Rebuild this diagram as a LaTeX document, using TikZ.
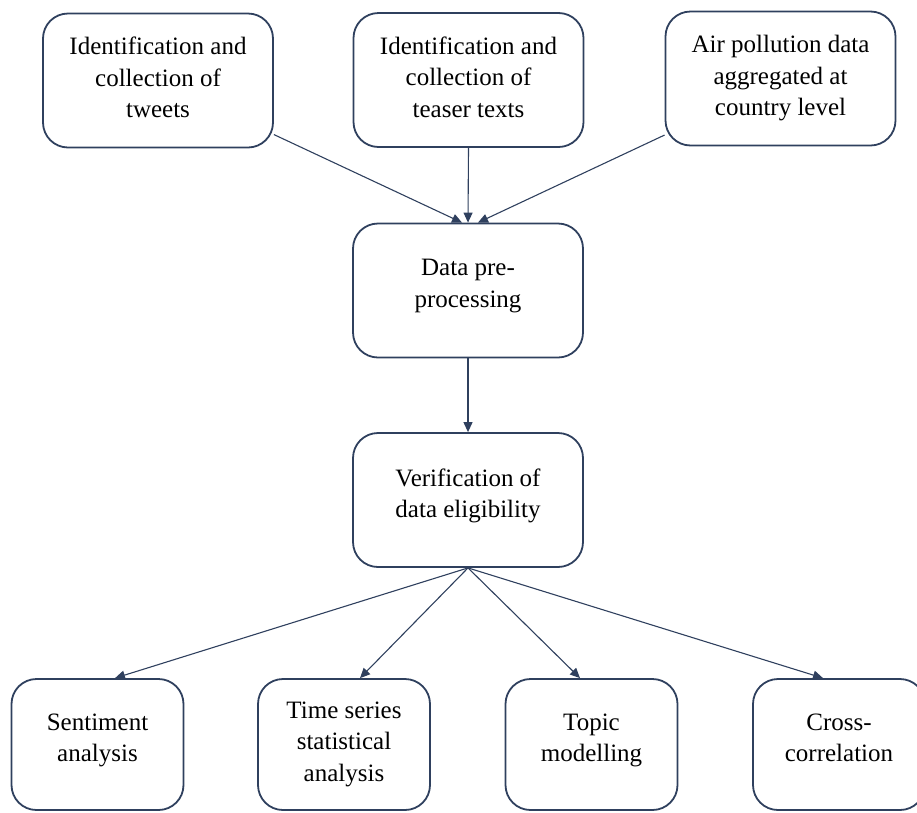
\documentclass[tikz,border=0pt]{standalone}
\usepackage{fontspec}
\setmainfont{Liberation Serif}
\usetikzlibrary{arrows.meta,positioning}
\definecolor{boxblue}{RGB}{47,64,94}
\tikzset{
  stage/.style={draw=boxblue, line width=1.8pt, rounded corners=25pt,
    align=center, inner sep=0pt, text depth=14pt,
    font=\fontsize{25}{31.5}\selectfont,
    minimum width=230pt, minimum height=134pt},
  method/.style={stage, minimum width=172pt, minimum height=131pt},
  threeline/.style={text depth=6pt},
  flow/.style={draw=boxblue, line width=1.1pt,
    -{Triangle[length=10pt,width=9pt]}}
}
\begin{document}
\begin{tikzpicture}[x=1pt, y=1pt]
  \useasboundingbox (0, 0) rectangle (917, -812);

  % data sources
  \node[stage, threeline] (tweets) at (158, -80.5) {Identification and\\collection of\\tweets};
  \node[stage, threeline] (teaser) at (468.5, -80) {Identification and\\collection of\\teaser texts};
  \node[stage, threeline] (air) at (780.5, -78.5) {Air pollution data\\aggregated at\\country level};

  % processing
  \node[stage] (prep) at (468, -290.5) {Data pre-\\processing};
  \node[stage] (verif) at (468, -500) {Verification of\\data eligibility};

  % analyses
  \node[method] (sent) at (97.5, -744.5) {Sentiment\\analysis};
  \node[method, threeline] (tsa) at (344, -744.5) {Time series\\statistical\\analysis};
  \node[method] (topic) at (591.5, -744.5) {Topic\\modelling};
  \node[method] (xcorr) at (839, -744.5) {Cross-\\correlation};

  \draw[flow] (tweets.-25) -- ([xshift=-6pt]prep.north);
  \draw[flow] (teaser.south) -- (prep.north);
  \draw[flow] (air.206) -- ([xshift=10pt]prep.north);
  \draw[flow] (prep.south) -- (verif.north);

  % one arrow to each analysis
  \foreach \dest/\dx in {sent/17.5, tsa/16, topic/-11.5, xcorr/-16} {
    \draw[flow] (verif.south) -- ([xshift=\dx pt]\dest.north);
  }
\end{tikzpicture}
\end{document}
